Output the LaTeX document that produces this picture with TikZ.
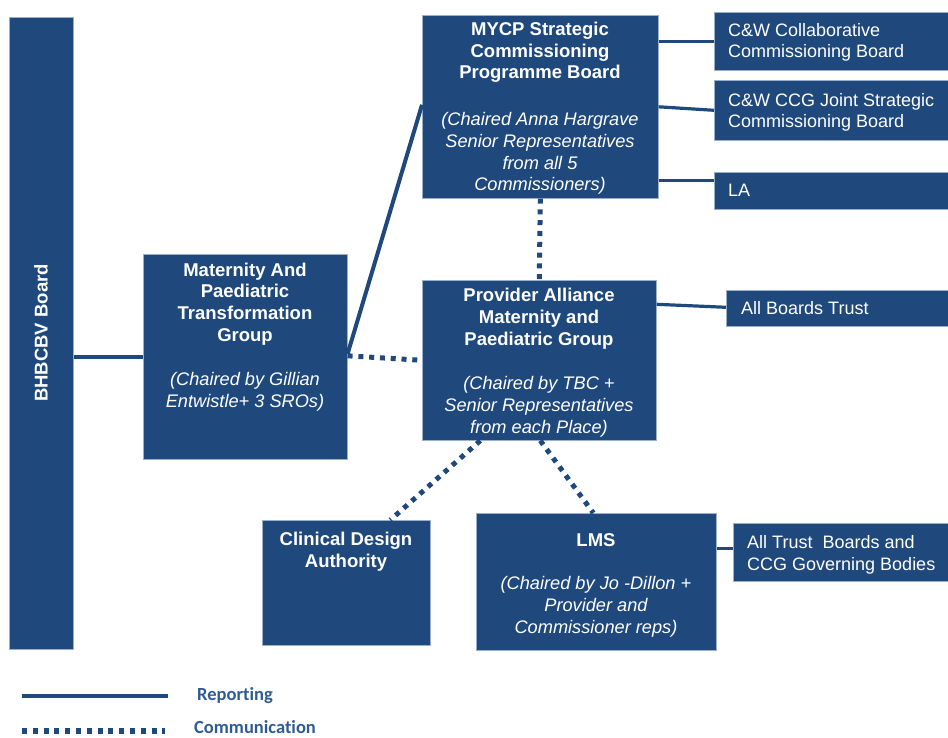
\documentclass[tikz,border=0pt]{standalone}
\usepackage{fontspec}
\setmainfont{Liberation Sans}
\newfontfamily\legfont[Ligatures=NoCommon]{Carlito}
\definecolor{navy}{HTML}{1F497D}
\definecolor{edge}{HTML}{9AAFCB}
\definecolor{legtext}{HTML}{2F5B94}
\begin{document}
\begin{tikzpicture}[x=1pt,y=-1pt,
  box/.style={fill=navy, draw=edge, line width=0.6pt, inner sep=0pt, anchor=north west},
  ttl/.style={text=white, font=\fontsize{18.5}{21.6}\selectfont\bfseries, align=center, anchor=base, inner sep=0pt},
  sub/.style={text=white, font=\fontsize{18.2}{21.8}\selectfont\itshape, align=center, anchor=base, inner sep=0pt},
  side/.style={text=white, font=\fontsize{18}{21.2}\selectfont, align=left, anchor=base west, inner sep=0pt},
  rep/.style={draw=navy, line width=4pt},
  repthin/.style={draw=navy, line width=3.2pt},
  comm/.style={draw=navy, line width=5pt, dash pattern=on 5pt off 5.8pt},
  leg/.style={text=legtext, font=\legfont\fontsize{18.5}{22}\selectfont\bfseries, anchor=west, inner sep=0pt}]
\useasboundingbox (0,0) rectangle (948,738);

% boxes
\node[box, minimum width=64pt, minimum height=632pt] (bh) at (9,17) {};
\node[box, minimum width=204pt, minimum height=205pt] (mat) at (143,254) {};
\node[box, minimum width=236pt, minimum height=183pt] (mycp) at (422,15) {};
\node[box, minimum width=234pt, minimum height=160pt] (prov) at (422,280) {};
\node[box, minimum width=168pt, minimum height=125pt] (cda) at (262,520) {};
\node[box, minimum width=240pt, minimum height=137pt] (lms) at (476,513) {};
\node[box, minimum width=240pt, minimum height=58pt] (cwc) at (714,12) {};
\node[box, minimum width=240pt, minimum height=60pt] (ccg) at (714,80) {};
\node[box, minimum width=240pt, minimum height=37pt] (la) at (714,172) {};
\node[box, minimum width=230pt, minimum height=36pt] (abt) at (726,290) {};
\node[box, minimum width=220pt, minimum height=58pt] (atb) at (733,523) {};

% texts (base anchor = baseline of the last line)
\node[ttl, rotate=90, anchor=center] (bhT) at (41,333) {BHBCBV Board};
\node[ttl] (matT) at (245,341) {Maternity And\\Paediatric\\Transformation\\Group};
\node[sub] (matS) at (245,407) {(Chaired by Gillian\\Entwistle+ 3 SROs)};
\node[ttl] (mycpT) at (540,79) {MYCP Strategic\\Commissioning\\Programme Board};
\node[sub] (mycpS) at (540,191) {(Chaired Anna Hargrave\\Senior Representatives\\from all 5\\Commissioners)};
\node[ttl] (provT) at (539,345) {Provider Alliance\\Maternity and\\Paediatric Group};
\node[sub] (provS) at (539,433) {(Chaired by TBC +\\Senior Representatives\\from each Place)};
\node[ttl] (cdaT) at (346,567) {Clinical Design\\Authority};
\node[ttl] (lmsT) at (596,546) {LMS};
\node[sub] (lmsS) at (596,633) {(Chaired by Jo -Dillon +\\Provider and\\Commissioner reps)};
\node[side] (cwcT) at (728,58) {C\&W Collaborative\\Commissioning Board};
\node[side] (ccgT) at (728,128) {C\&W CCG Joint Strategic\\Commissioning Board};
\node[side] (laT) at (728,197) {LA};
\node[side] (abtT) at (741,314) {All Boards Trust};
\node[side] (atbT) at (747,570) {All Trust\ \ Boards and\\CCG Governing Bodies};

% connectors
\coordinate (laIn) at ([yshift=10pt]la.west);
\coordinate (abtIn) at ([yshift=1pt]abt.west);
\coordinate (atbIn) at ([yshift=4pt]atb.west);
\draw[rep] (bh.east |- mat.west) -- (mat.west);
\draw[rep] ([yshift=3pt]mat.east) -- ([yshift=2pt]mycp.west);
\draw[comm] ([yshift=1pt]mat.east) -- (prov.west);
\draw[comm] (mycp.south) -- (prov.south |- prov.north);
\draw[comm] ([xshift=-59pt]prov.south) -- ([xshift=44pt]cda.north);
\draw[comm] ([xshift=1pt]prov.south) -- ([xshift=-3pt]lms.north);
\draw[repthin] (cwc.west -| mycp.east) -- (cwc.west);
\draw[repthin] (mycp.east) -- (ccg.west);
\draw[repthin] (laIn -| mycp.east) -- (laIn);
\draw[repthin] ([yshift=3pt]abtIn -| prov.east) -- (abtIn);
\draw[repthin] (atbIn -| lms.east) -- (atbIn);

% legend
\coordinate (l1a) at (22,696);
\coordinate (l1b) at (168,696);
\coordinate (l2a) at (22,731);
\coordinate (l2b) at (165,731);
\draw[rep, line width=4.5pt] (l1a) -- (l1b);
\draw[comm, line width=5.5pt] (l2a) -- (l2b);
\node[leg] (legR) at (197,696) {Reporting};
\node[leg] (legC) at (194,727.5) {Communication};
\end{tikzpicture}
\end{document}
